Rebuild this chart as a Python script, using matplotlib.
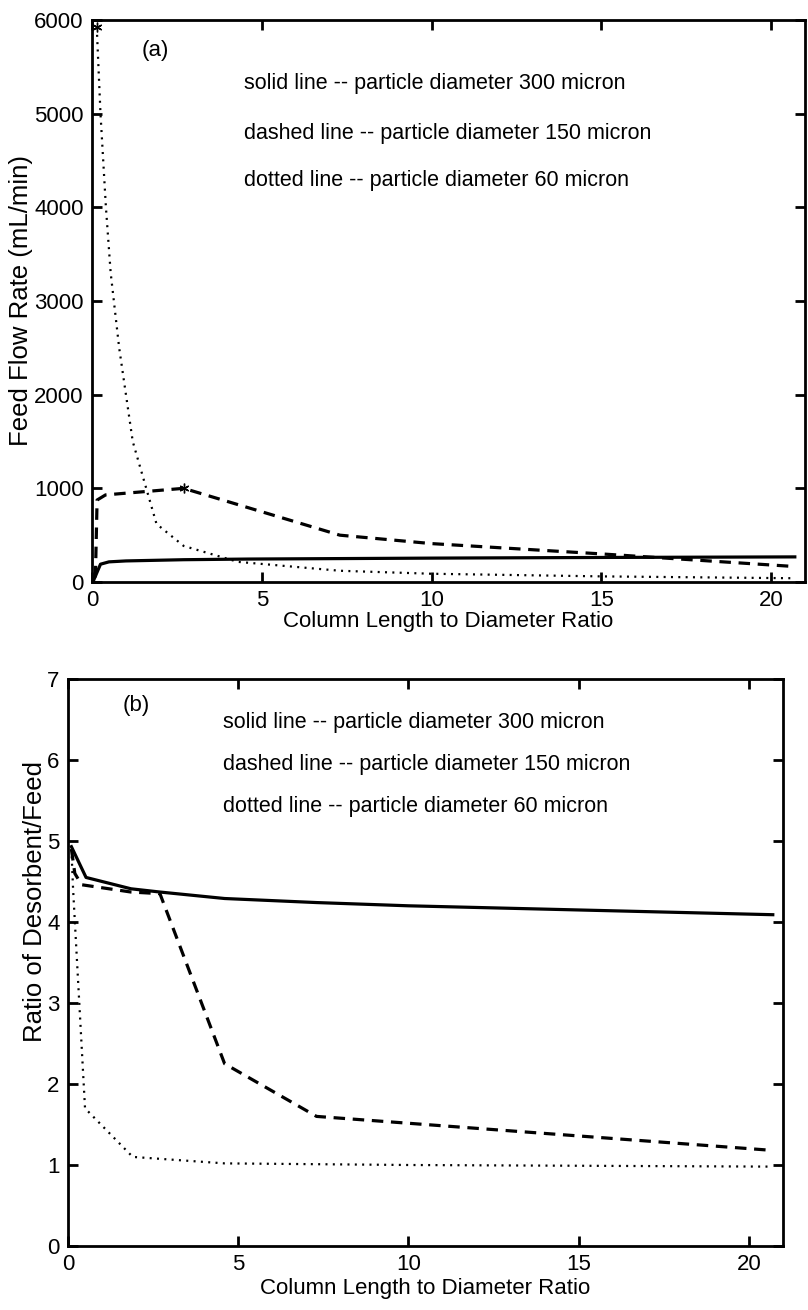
import matplotlib
matplotlib.use("Agg")
import matplotlib.pyplot as plt

plt.rcParams['font.family'] = ['Liberation Sans', 'DejaVu Sans']

# Panel (a): feed flow rate (mL/min)
x_a_solid = [0.05, 0.25, 0.5, 1.0, 2.7, 4.6, 7.3, 10.0, 15.0, 20.7]
y_a_solid = [20, 190, 215, 225, 238, 245, 250, 255, 262, 268]
x_a_dash = [0.1, 0.15, 0.4, 2.7, 7.3, 10.0, 15.0, 20.7]
y_a_dash = [50, 875, 930, 1000, 500, 410, 300, 165]
x_a_dot = [0.14, 0.25, 0.41, 0.55, 0.8, 1.2, 1.9, 2.7, 4.3, 7.3, 10.0, 15.0, 20.7]
y_a_dot = [5920, 5000, 4000, 3300, 2500, 1500, 620, 385, 215, 120, 88, 60, 40]
star_a_x = [0.14, 2.7]
star_a_y = [5920, 1000]

# Panel (b): ratio of desorbent/feed
x_b_solid = [0.1, 0.53, 1.85, 2.7, 4.6, 7.3, 10.0, 20.7]
y_b_solid = [4.93, 4.55, 4.41, 4.37, 4.29, 4.24, 4.2, 4.09]
x_b_dash = [0.1, 0.2, 0.4, 1.85, 2.7, 4.6, 7.3, 20.7]
y_b_dash = [4.9, 4.6, 4.46, 4.37, 4.35, 2.25, 1.6, 1.18]
x_b_dot = [0.1, 0.15, 0.5, 1.9, 4.6, 10.0, 20.7]
y_b_dot = [4.9, 4.4, 1.7, 1.1, 1.02, 1.0, 0.98]

legend_lines = ["solid line -- particle diameter 300 micron",
                "dashed line -- particle diameter 150 micron",
                "dotted line -- particle diameter 60 micron"]
xticks = [0, 5, 10, 15, 20]
yticks_a = [0, 1000, 2000, 3000, 4000, 5000, 6000]
yticks_b = [0, 1, 2, 3, 4, 5, 6, 7]

fig = plt.figure(figsize=(8.08, 13.10), dpi=100)
ax1 = fig.add_axes([92/808, 1-582/1310, (805-92)/808, (582-20)/1310])
ax2 = fig.add_axes([68/808, 1-1246/1310, (783-68)/808, (1246-679)/1310])

lw = 2.3
dash = (0, (3.6, 2.4))
dot = (0, (0.9, 2.4))

def style(ax):
    for s in ax.spines.values():
        s.set_linewidth(2.0)
    ax.tick_params(direction='in', length=7, width=2, top=True, right=True,
                   labelsize=16)
    ax.tick_params(axis='x', pad=6)
    ax.tick_params(axis='y', pad=6)
    ax.set_xticks(xticks)
    ax.set_xlim(0, 21)

ax1.plot(x_a_solid, y_a_solid, color='black', lw=lw)
ax1.plot(x_a_dash, y_a_dash, color='black', lw=lw, linestyle=dash)
ax1.plot(x_a_dot, y_a_dot, color='black', lw=1.6, linestyle=dot)
ax1.plot(star_a_x, star_a_y, linestyle='none', marker=(6, 2, 0), markersize=7,
         color='black', markeredgewidth=1)
style(ax1)
ax1.set_ylim(0, 6000)
ax1.set_yticks(yticks_a)
ax1.set_xlabel("Column Length to Diameter Ratio", fontsize=16, labelpad=0)
ax1.set_ylabel("Feed Flow Rate (mL/min)", fontsize=18.5)
ax1.yaxis.set_label_coords(-0.083, 0.5)
ax1.text(1.47, 5672, "(a)", fontsize=16, va='center', ha='left')
for i, t in enumerate(legend_lines):
    ax1.text(4.47, [5320, 4787, 4285][i], t, fontsize=15.5, va='center', ha='left')

ax2.plot(x_b_solid, y_b_solid, color='black', lw=lw)
ax2.plot(x_b_dash, y_b_dash, color='black', lw=lw, linestyle=dash)
ax2.plot(x_b_dot, y_b_dot, color='black', lw=1.6, linestyle=dot)
style(ax2)
ax2.set_ylim(0, 7)
ax2.set_yticks(yticks_b)
ax2.set_xlabel("Column Length to Diameter Ratio", fontsize=16, labelpad=2)
ax2.set_ylabel("Ratio of Desorbent/Feed", fontsize=18.5)
ax2.yaxis.set_label_coords(-0.029, 0.608)
ax2.text(1.59, 6.67, "(b)", fontsize=16, va='center', ha='left')
for i, t in enumerate(legend_lines):
    ax2.text(4.56, [6.46, 5.95, 5.43][i], t, fontsize=15.5, va='center', ha='left')

fig.savefig("out.png", dpi=100)
